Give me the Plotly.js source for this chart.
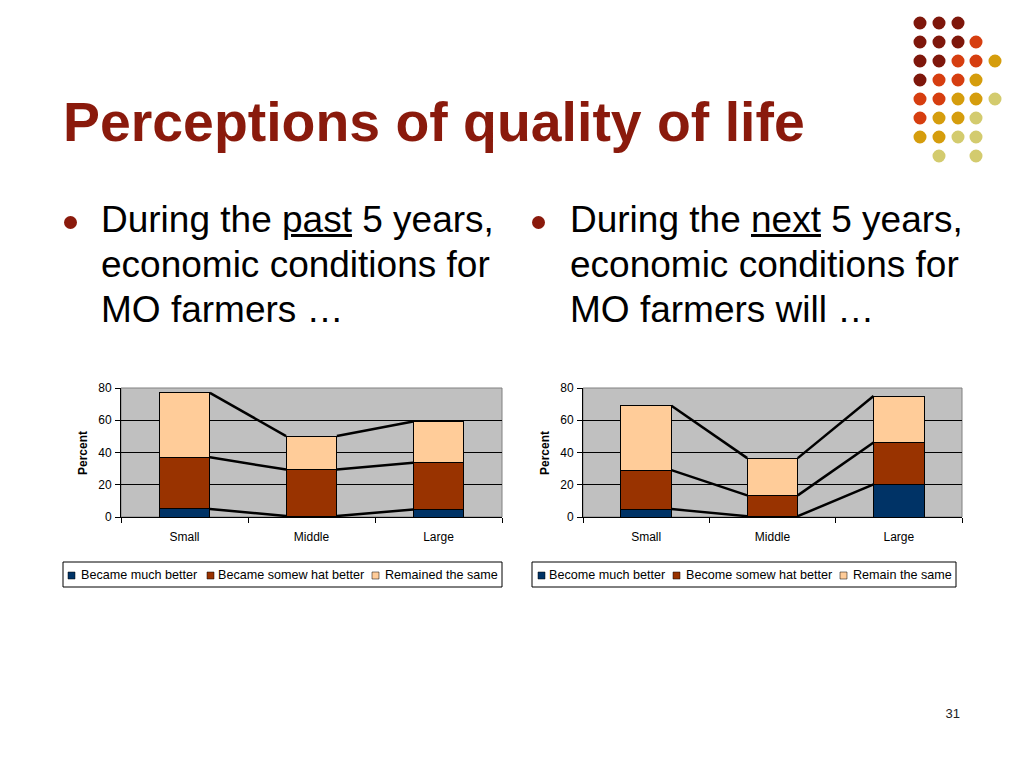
<!DOCTYPE html>
<html><head><meta charset="utf-8">
<script src="https://cdn.plot.ly/plotly-3.0.1.min.js"></script>
<style>
body{margin:0;background:#fff;}
#wrap{position:relative;width:1024px;height:768px;overflow:hidden;font-family:"Liberation Sans",Arial,sans-serif;background:#fff;}
#chart{position:absolute;left:0;top:0;width:1024px;height:768px;}
.t{position:absolute;white-space:nowrap;color:#000;}
.title{left:63px;top:91px;font-size:55.4px;line-height:62px;font-weight:bold;color:#8A1A0C;}
.bul{font-size:37px;line-height:45px;top:197px;}
.dot{position:absolute;width:13px;height:13px;border-radius:50%;background:#8A1A0C;}
.pg{right:64px;top:706px;font-size:13px;line-height:15px;color:#222;}
</style></head>
<body>
<div id="wrap">
<div id="chart"></div>
<div class="t title">Perceptions of quality of life</div>
<div class="dot" style="left:64px;top:216px;"></div>
<div class="t bul" style="left:101px;">During the <u>past</u> 5 years,<br>economic conditions for<br>MO farmers …</div>
<div class="dot" style="left:532px;top:216px;"></div>
<div class="t bul" style="left:570px;">During the <u>next</u> 5 years,<br>economic conditions for<br>MO farmers will …</div>
<div class="t pg">31</div>
</div>
<script>
// ---- data ----
const categories = ['Small', 'Middle', 'Large'];
const yTicks = [0, 20, 40, 60, 80];
const pastMuchBetter = [5, 0.6, 4.6];
const pastSomewhatBetter = [32, 28.8, 29];
const pastSame = [40, 20.8, 25.6];
const nextMuchBetter = [4.9, 0.5, 20.2];
const nextSomewhatBetter = [24.2, 12.9, 26];
const nextSame = [39.9, 23.1, 28.8];
const pastLegend = ['Became much better', 'Became somew hat better', 'Remained the same'];
const nextLegend = ['Become much better', 'Become somew hat better', 'Remain the same'];
const yTitle = 'Percent';

// ---- styling ----
const colors = ['#003366', '#993300', '#FFCC99'];
const FONT = '"Liberation Sans", Arial, sans-serif';
const W = 1024, H = 768;
const px = x => x / W, py = y => 1 - y / H;
const bargap = 0.6, half = (1 - bargap) / 2;

function cumulative(series) {
  const out = []; let acc = categories.map(() => 0);
  series.forEach(s => { acc = acc.map((a, i) => a + s[i]); out.push(acc.slice()); });
  return out;
}
function seriesLines(series, xa, ya) {
  return cumulative(series).map(cum => {
    const xs = [], ys = [];
    for (let i = 0; i < categories.length - 1; i++) {
      xs.push(i + half, i + 1 - half, null); ys.push(cum[i], cum[i + 1], null);
    }
    return {type: 'scatter', mode: 'lines', x: xs, y: ys, xaxis: xa, yaxis: ya,
      line: {color: '#000', width: 2.5}, showlegend: false, hoverinfo: 'skip'};
  });
}
function bars(series, names, xa, ya) {
  return series.map((s, k) => ({type: 'bar', x: categories, y: s, name: names[k], xaxis: xa, yaxis: ya,
    marker: {color: colors[k], line: {color: '#000', width: 1}}, showlegend: false}));
}
const pastSeries = [pastMuchBetter, pastSomewhatBetter, pastSame];
const nextSeries = [nextMuchBetter, nextSomewhatBetter, nextSame];
const data = [
  ...bars(pastSeries, pastLegend, 'x', 'y'),
  ...bars(nextSeries, nextLegend, 'x2', 'y2'),
  ...seriesLines(pastSeries, 'x3', 'y'),
  ...seriesLines(nextSeries, 'x4', 'y2')
];

const yDom = [py(517), py(388)];
function xCat(dom, anchor) {
  return {domain: dom, anchor: anchor, type: 'category', range: [-0.5, 2.5], tickson: 'boundaries',
    ticks: 'outside', ticklen: 5, tickcolor: '#000', showline: true, linecolor: '#000', linewidth: 1,
    ticklabelstandoff: 9,
    showgrid: false, tickfont: {family: FONT, size: 12, color: '#000'}, fixedrange: true};
}
function yVal(dom, anchor) {
  return {domain: dom, anchor: anchor, range: [0, 80], tickvals: yTicks, ticks: 'outside', ticklen: 5,
    tickcolor: '#000', showline: true, linecolor: '#000', linewidth: 1, showgrid: true, gridcolor: '#000',
    ticklabelstandoff: 1,
    gridwidth: 1, zeroline: false, tickfont: {family: FONT, size: 12, color: '#000'}, fixedrange: true};
}
function xOver(base, anchor) {
  return {overlaying: base, anchor: anchor, range: [-0.5, 2.5], visible: false, fixedrange: true};
}

const shapes = [];
const annotations = [];
// plot-area borders
[['x', 'y'], ['x2', 'y2']].forEach(([xa, ya]) => {
  shapes.push({type: 'rect', xref: xa + ' domain', yref: ya + ' domain', x0: 0, x1: 1, y0: 0, y1: 1,
    line: {color: '#808080', width: 1}, layer: 'below'});
});
// y titles
[83, 545].forEach(x => annotations.push({text: '<b>' + yTitle + '</b>', x: px(x), y: py(453), xref: 'paper', yref: 'paper',
  textangle: -90, showarrow: false, font: {family: FONT, size: 12, color: '#000'}, xanchor: 'center', yanchor: 'middle'}));
// manual legends
function legend(box, markerX, textX, names) {
  shapes.push({type: 'rect', xref: 'paper', yref: 'paper', x0: px(box[0]), x1: px(box[1]), y0: py(587), y1: py(562),
    line: {color: '#000', width: 1}, fillcolor: '#fff'});
  names.forEach((n, k) => {
    shapes.push({type: 'rect', xref: 'paper', yref: 'paper', x0: px(markerX[k]), x1: px(markerX[k] + 7), y0: py(579), y1: py(572),
      line: {color: '#000', width: 0.5}, fillcolor: colors[k]});
    annotations.push({text: n, x: px(textX[k] - 2), y: py(575), xref: 'paper', yref: 'paper', showarrow: false,
      xanchor: 'left', yanchor: 'middle', font: {family: FONT, size: 12.6, color: '#000'}});
  });
}
legend([63, 502], [68, 207, 372], [81, 218, 385], pastLegend);
legend([532, 956], [538, 673, 840], [549, 686, 853], nextLegend);

// decorative dot matrix (top right)
const dotCols = [920, 939, 958, 976, 995];
const dotRows = [23, 42, 61, 80, 99, 118, 137, 156];
const dotPalette = ['', '#7E170B', '#D63E10', '#D59D0D', '#D3CB6E'];
const dotPattern = [
  [1, 1, 1, 0, 0],
  [1, 1, 1, 2, 0],
  [1, 1, 2, 2, 3],
  [1, 2, 2, 3, 0],
  [2, 2, 3, 3, 4],
  [2, 3, 3, 4, 0],
  [3, 3, 4, 4, 0],
  [0, 4, 0, 4, 0]
];
dotPattern.forEach((row, r) => row.forEach((c, ci) => {
  if (!c) return;
  const cx = dotCols[ci], cy = dotRows[r], rr = 6.5;
  shapes.push({type: 'circle', xref: 'paper', yref: 'paper', x0: px(cx - rr), x1: px(cx + rr), y0: py(cy + rr), y1: py(cy - rr),
    fillcolor: dotPalette[c], line: {width: 0}});
}));

const layout = {
  width: W, height: H, margin: {l: 0, r: 0, t: 0, b: 0}, paper_bgcolor: '#fff', plot_bgcolor: '#C0C0C0',
  barmode: 'stack', bargap: bargap, showlegend: false,
  font: {family: FONT, size: 12, color: '#000'},
  xaxis: xCat([px(121), px(502)], 'y'), yaxis: yVal(yDom, 'x'),
  xaxis2: xCat([px(583), px(962)], 'y2'), yaxis2: yVal(yDom, 'x2'),
  xaxis3: xOver('x', 'y'), xaxis4: xOver('x2', 'y2'),
  shapes: shapes, annotations: annotations
};
Plotly.newPlot('chart', data, layout, {staticPlot: true, displayModeBar: false});
</script>
</body></html>
